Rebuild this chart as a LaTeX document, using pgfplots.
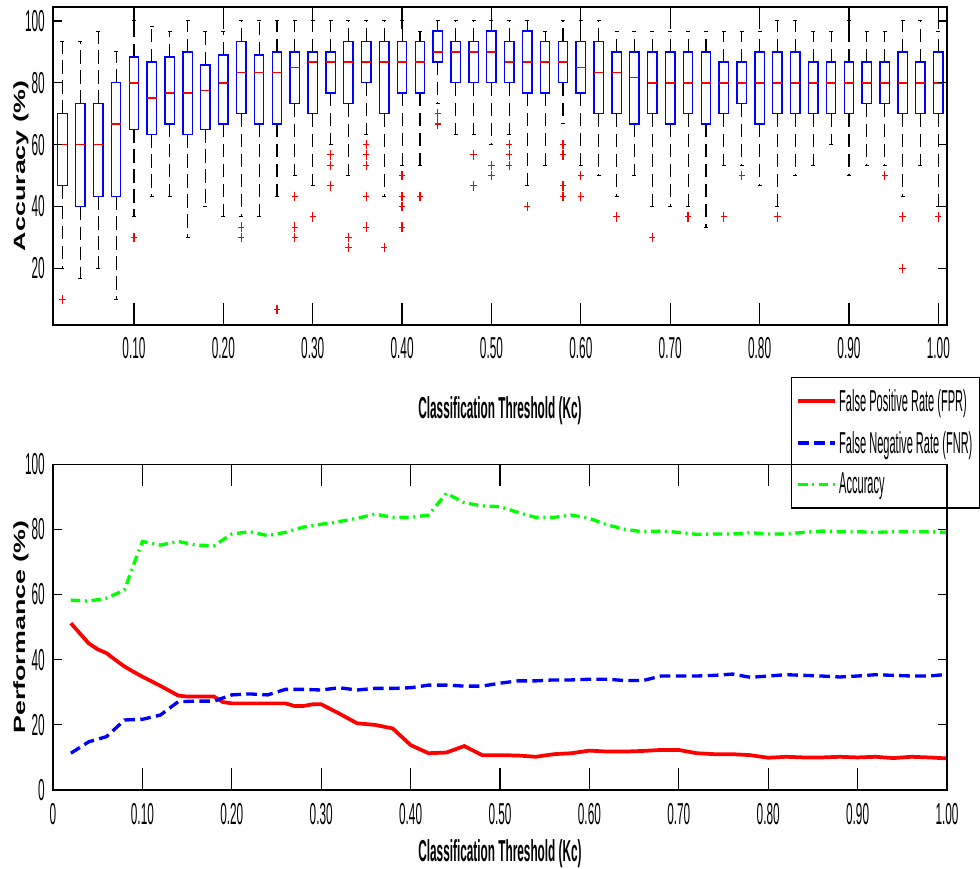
\documentclass[border=0pt]{standalone}
\usepackage{pgfplots}
\pgfplotsset{compat=1.18}
\usepgfplotslibrary{statistics}
\usepackage{fontspec}
\setmainfont{Liberation Sans}[FakeStretch=0.39]
\newfontfamily\legfont{Liberation Sans}[FakeStretch=0.365]
\newfontfamily\ylabfont{Liberation Sans}[FakeStretch=1.65]
\newcommand\tickfont{\fontsize{22.7}{25}\selectfont}
\newcommand\legendfont{\legfont\fontsize{22.7}{25}\selectfont}
\newcommand\labfont{\fontsize{22.7}{25}\selectfont\bfseries}
\newcommand\ylfont{\ylabfont\fontsize{12.2}{14}\selectfont\bfseries}
\newcommand\bx[7]{\addplot[red, mark=+, boxplot prepared={draw position=#1, lower whisker=#2, lower quartile=#3, median=#4, upper quartile=#5, upper whisker=#6}] coordinates {#7};}
\pgfplotsset{
  mystyle/.style={
    scale only axis, width=670.5pt,
    axis line style={line width=1pt},
    tick style={black, line width=0.9pt},
    tick align=inside,
    minor tick num=0,
    yticklabel style={font=\tickfont, anchor=east, inner sep=0pt, xshift=-6pt},
    every axis y label/.style={at={(axis description cs:-0.0313,0.5)}, rotate=90, anchor=base, font=\ylfont},
  },
  xpart/.style={major tick length=16.5pt, ytick=\empty},
  ypart/.style={major tick length=6.75pt, xtick=\empty},
}
\begin{document}
\begin{tikzpicture}
\useasboundingbox (0,0) rectangle (735pt,-651pt);
% ---------------- top: box plots ----------------
\begin{axis}[mystyle, xpart,
  at={(39.75pt,-5.25pt)}, anchor=north west,
  height=238.5pt,
  xmin=0.0094, xmax=1.0097, ymin=1.7, ymax=104.5,
  xtick={0.1,0.2,0.3,0.4,0.5,0.6,0.7,0.8,0.9,1.0},
  xticklabels={0.10,0.20,0.30,0.40,0.50,0.60,0.70,0.80,0.90,1.00},
  xticklabel style={font=\tickfont, anchor=north, inner sep=0pt, yshift=-8.8pt},
  xlabel={Classification Threshold (Kc)},
  every axis x label/.style={at={(axis description cs:0.5,-0.2934)}, anchor=base, font=\labfont},
  boxplot/draw direction=y,
  boxplot/box extend=0.0105,
  boxplot/whisker extend=0.0045,
  boxplot/every box/.style={draw=blue, line width=1pt},
  boxplot/every median/.style={draw=red, line width=1.2pt},
  boxplot/every whisker/.style={draw=black, line width=0.8pt, dash pattern=on 10pt off 5pt},
  mark options={red, line width=0.9pt, solid, xscale=0.65}, mark size=3.6pt,
]
\bx{0.02}{20}{46.7}{60}{70}{93.3}{(0.02,10)}
\bx{0.04}{16.7}{40}{60}{73.3}{93.3}{}
\bx{0.06}{20}{43.3}{60}{73.3}{96.7}{}
\bx{0.08}{10}{43.3}{66.7}{80}{90}{}
\bx{0.10}{36.7}{65}{80}{88.3}{100}{(0.10,30)}
\bx{0.12}{43.3}{63.3}{75}{86.7}{98.3}{}
\bx{0.14}{43.3}{66.7}{76.7}{88.3}{96.7}{}
\bx{0.16}{30}{63.3}{76.7}{90}{100}{}
\bx{0.18}{40}{65}{77.5}{85.8}{96.7}{}
\bx{0.20}{36.7}{66.7}{80}{89}{96.7}{}
\bx{0.22}{36.7}{70}{83.3}{93.3}{100}{(0.22,33.3)(0.22,30)}
\bx{0.24}{36.7}{66.7}{83.3}{89}{100}{}
\bx{0.26}{43.3}{66.7}{83.3}{90}{100}{(0.26,6.7)}
\bx{0.28}{50}{73.3}{85}{90}{100}{(0.28,43.3)(0.28,33.3)(0.28,30)}
\bx{0.30}{46.7}{70}{86.7}{90}{100}{(0.30,36.7)}
\bx{0.32}{60}{76.7}{86.7}{90}{100}{(0.32,56.7)(0.32,53.3)(0.32,46.7)}
\bx{0.34}{50}{73.3}{86.7}{93.3}{100}{(0.34,30)(0.34,26.7)}
\bx{0.36}{63.3}{80}{86.7}{93.3}{100}{(0.36,60)(0.36,56.7)(0.36,53.3)(0.36,43.3)(0.36,33.3)}
\bx{0.38}{43.3}{70}{86.7}{93.3}{100}{(0.38,26.7)}
\bx{0.40}{53.3}{76.7}{86.7}{93.3}{100}{(0.40,50)(0.40,43.3)(0.40,40)(0.40,33.3)}
\bx{0.42}{53.3}{76.7}{86.7}{93.3}{96.7}{(0.42,43.3)}
\bx{0.44}{73.3}{86.7}{90}{96.7}{100}{(0.44,70)(0.44,66.7)}
\bx{0.46}{63.3}{80}{90}{93.3}{100}{}
\bx{0.48}{63.3}{80}{90}{93.3}{100}{(0.48,56.7)(0.48,46.7)}
\bx{0.50}{60}{80}{90}{96.7}{100}{(0.50,53.3)(0.50,50)}
\bx{0.52}{63.3}{80}{86.7}{93.3}{100}{(0.52,60)(0.52,56.7)(0.52,53.3)}
\bx{0.54}{46.7}{76.7}{86.7}{96.7}{100}{(0.54,40)}
\bx{0.56}{53.3}{76.7}{86.7}{93.3}{96.7}{}
\bx{0.58}{66.7}{80}{86.7}{93.3}{100}{(0.58,60)(0.58,56.7)(0.58,46.7)(0.58,43.3)}
\bx{0.60}{53.3}{76.7}{85}{93.3}{100}{(0.60,50)(0.60,43.3)}
\bx{0.62}{50}{70}{83.3}{93.3}{100}{}
\bx{0.64}{43.3}{70}{83.3}{90}{96.7}{(0.64,36.7)}
\bx{0.66}{50}{66.7}{81.7}{90}{96.7}{}
\bx{0.68}{40}{70}{80}{90}{96.7}{(0.68,30)}
\bx{0.70}{40}{66.7}{80}{90}{96.7}{}
\bx{0.72}{40}{70}{80}{90}{96.7}{(0.72,36.7)}
\bx{0.74}{33.3}{66.7}{80}{90}{96.7}{}
\bx{0.76}{53.3}{70}{80}{86.7}{96.7}{(0.76,36.7)}
\bx{0.78}{53.3}{73.3}{80}{86.7}{96.7}{(0.78,50)}
\bx{0.80}{46.7}{66.7}{80}{90}{96.7}{}
\bx{0.82}{40}{70}{80}{90}{100}{(0.82,36.7)}
\bx{0.84}{50}{70}{80}{90}{100}{}
\bx{0.86}{53.3}{70}{80}{86.7}{96.7}{}
\bx{0.88}{60}{70}{80}{86.7}{96.7}{}
\bx{0.90}{50}{70}{80}{86.7}{100}{}
\bx{0.92}{53.3}{73.3}{80}{86.7}{96.7}{}
\bx{0.94}{53.3}{73.3}{80}{86.7}{96.7}{(0.94,50)}
\bx{0.96}{43.3}{70}{80}{90}{100}{(0.96,36.7)(0.96,20)}
\bx{0.98}{53.3}{70}{80}{86.7}{100}{}
\bx{1.00}{40}{70}{80}{90}{96.7}{(1.00,36.7)}
\end{axis}
\begin{axis}[mystyle, ypart,
  at={(39.75pt,-5.25pt)}, anchor=north west,
  height=238.5pt,
  xmin=0.0094, xmax=1.0097, ymin=1.7, ymax=104.5,
  ytick={20,40,60,80,100},
  yticklabels={20,40,60,80,100},
  ylabel={Accuracy (\%)},
]
\end{axis}
% ---------------- bottom: lines ----------------
\begin{axis}[mystyle, xpart,
  at={(39.75pt,-348.2pt)}, anchor=north west,
  height=244.3pt,
  xmin=0, xmax=1, ymin=0, ymax=100,
  xtick={0,0.1,0.2,0.3,0.4,0.5,0.6,0.7,0.8,0.9,1.0},
  xticklabels={0,0.10,0.20,0.30,0.40,0.50,0.60,0.70,0.80,0.90,1.00},
  xticklabel style={font=\tickfont, anchor=north, inner sep=0pt, yshift=-9.5pt},
  xlabel={Classification Threshold (Kc)},
  every axis x label/.style={at={(axis description cs:0.5,-0.220)}, anchor=base, font=\labfont},
  legend style={at={(axis description cs:0.825,1.269)}, anchor=north west, draw=black, line width=0.9pt, fill=white, font=\legendfont, inner xsep=4pt, inner ysep=7.5pt, row sep=10.5pt, nodes={inner sep=1.5pt}},
  legend cell align=left,
  legend image code/.code={\draw[#1] (0pt,0pt) -- (27.75pt,0pt);},
]
\addplot[red, line width=2.8pt] coordinates {(0.02,51.2)(0.03,48.1)(0.04,45.0)(0.05,43.2)(0.06,42.0)(0.07,39.9)(0.08,37.9)(0.09,36.3)(0.10,34.8)(0.12,32.0)(0.14,29.0)(0.15,28.7)(0.16,28.7)(0.18,28.7)(0.19,27.0)(0.20,26.6)(0.22,26.6)(0.24,26.6)(0.26,26.6)(0.27,25.8)(0.28,25.8)(0.29,26.3)(0.30,26.3)(0.32,23.5)(0.34,20.5)(0.36,20.0)(0.38,18.9)(0.40,13.8)(0.42,11.3)(0.44,11.5)(0.46,13.5)(0.48,10.7)(0.50,10.7)(0.52,10.6)(0.54,10.2)(0.56,11.0)(0.58,11.3)(0.60,12.1)(0.62,11.8)(0.64,11.8)(0.66,12.0)(0.68,12.3)(0.70,12.3)(0.72,11.3)(0.74,11.0)(0.76,11.0)(0.78,10.7)(0.80,9.9)(0.82,10.2)(0.84,10.0)(0.86,10.0)(0.88,10.2)(0.90,10.0)(0.92,10.2)(0.94,9.8)(0.96,10.2)(0.98,10.0)(1.00,9.7)};
\addlegendentry{False Positive Rate (FPR)}
\addplot[blue, line width=2.5pt, dash pattern=on 8pt off 4pt] coordinates {(0.02,11.3)(0.04,14.8)(0.06,16.4)(0.08,21.5)(0.10,21.7)(0.12,23.0)(0.14,27.1)(0.16,27.3)(0.18,27.3)(0.20,29.2)(0.22,29.5)(0.24,29.2)(0.26,30.9)(0.28,30.9)(0.30,30.7)(0.32,31.4)(0.34,30.7)(0.36,31.2)(0.38,31.2)(0.40,31.4)(0.42,32.2)(0.44,32.2)(0.46,31.9)(0.48,31.9)(0.50,32.8)(0.52,33.5)(0.54,33.5)(0.56,33.8)(0.58,33.8)(0.60,34.0)(0.62,34.0)(0.64,33.6)(0.66,33.6)(0.68,35.0)(0.70,35.0)(0.72,35.0)(0.74,35.2)(0.76,35.6)(0.78,34.6)(0.80,35.0)(0.82,35.4)(0.84,35.2)(0.86,35.0)(0.88,34.7)(0.90,35.0)(0.92,35.4)(0.94,35.2)(0.96,35.0)(0.98,35.0)(1.00,35.5)};
\addlegendentry{False Negative Rate (FNR)}
\addplot[green, line width=2.5pt, dash pattern=on 7pt off 3.5pt on 1.5pt off 3.5pt] coordinates {(0.02,58.3)(0.04,58.0)(0.06,58.9)(0.08,61.4)(0.09,69.1)(0.10,76.3)(0.12,75.2)(0.14,76.3)(0.16,75.2)(0.18,75.0)(0.20,78.6)(0.22,79.3)(0.24,78.1)(0.26,79.1)(0.28,80.7)(0.30,81.6)(0.32,82.4)(0.34,83.4)(0.36,84.7)(0.38,83.7)(0.40,83.7)(0.42,84.4)(0.44,91.1)(0.46,88.2)(0.48,87.2)(0.50,87.0)(0.52,85.2)(0.54,83.7)(0.56,83.7)(0.58,84.4)(0.60,83.4)(0.62,81.4)(0.64,80.0)(0.66,79.3)(0.68,79.5)(0.70,79.1)(0.72,78.5)(0.74,78.6)(0.76,78.6)(0.78,79.0)(0.80,78.6)(0.82,78.6)(0.84,79.1)(0.86,79.5)(0.88,79.3)(0.90,79.3)(0.92,79.1)(0.94,79.3)(0.96,79.3)(0.98,79.3)(1.00,79.1)};
\addlegendentry{Accuracy}
\end{axis}
\begin{axis}[mystyle, ypart,
  at={(39.75pt,-348.2pt)}, anchor=north west,
  height=244.3pt,
  xmin=0, xmax=1, ymin=0, ymax=100,
  ytick={0,20,40,60,80,100},
  yticklabels={0,20,40,60,80,100},
  ylabel={Performance (\%)},
]
\end{axis}
\end{tikzpicture}
\end{document}
